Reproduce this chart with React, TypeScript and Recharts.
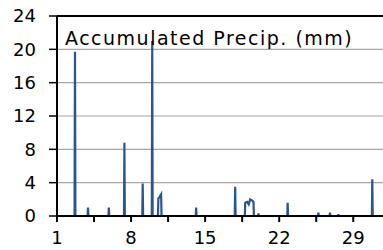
import React from "react";
import {
  LineChart,
  Line,
  XAxis,
  YAxis,
  CartesianGrid,
  ReferenceLine,
} from "recharts";

// day of month (fractional, hourly) and accumulated precipitation in mm
const days = [
  1, 2.66, 2.7, 2.74, 3.89, 3.93, 3.97, 5.86, 5.9, 5.94, 7.33, 7.37, 7.41,
  9.06, 9.1, 9.14, 9.96, 10.0, 10.04, 10.54, 10.58, 10.7, 10.84, 10.88,
  14.11, 14.15, 14.19, 17.8, 17.84, 17.88, 18.75, 18.79, 18.98, 19.12, 19.26,
  19.45, 19.57, 19.61, 20.0, 20.04, 20.08, 22.76, 22.8, 22.84, 25.66, 25.7,
  25.74, 26.76, 26.8, 26.84, 27.56, 27.6, 27.64, 30.76, 30.8, 30.84, 32,
];
const precip = [
  0, 0, 19.7, 0, 0, 1.0, 0, 0, 1.0, 0, 0, 8.8, 0,
  0, 3.9, 0, 0, 21.0, 0, 0, 2.1, 2.3, 2.6, 0,
  0, 1.0, 0, 0, 3.5, 0, 0, 1.6, 1.7, 1.4, 2.0,
  1.85, 1.7, 0, 0, 0.3, 0, 0, 1.6, 0, 0, 0.4,
  0, 0, 0.4, 0, 0, 0.2, 0, 0, 4.4, 0, 0,
];

const xTicks = [1, 4.5, 8, 11.5, 15, 18.5, 22, 25.5, 29];
const xLabels = [1, 8, 15, 22, 29];
const yTicks = [0, 4, 8, 12, 16, 20, 24];

const chartData = days.map((d, i) => ({ day: d, precip: precip[i] }));

const font = "DejaVu Sans";

const App: React.FC = () => {
  return (
    <div
      style={{
        position: "absolute",
        left: 0,
        top: 0,
        width: 383,
        height: 250,
        overflow: "hidden",
        background: "#fff",
      }}
    >
      <LineChart
        width={385}
        height={250}
        data={chartData}
        margin={{ top: 16, right: 0, bottom: 0, left: 0 }}
      >
        <CartesianGrid vertical={false} stroke="#a6a6a6" strokeWidth={1.2} />
        <XAxis
          dataKey="day"
          type="number"
          domain={[1, 32]}
          ticks={xTicks}
          interval={0}
          height={34}
          tickSize={6}
          tickMargin={9}
          axisLine={{ stroke: "#000", strokeWidth: 2 }}
          tickLine={{ stroke: "#000", strokeWidth: 2 }}
          tick={{ fill: "#000", fontSize: 18, fontFamily: font }}
          tickFormatter={(v: number) => (xLabels.includes(v) ? String(v) : "")}
        />
        <YAxis
          type="number"
          domain={[0, 24]}
          ticks={yTicks}
          interval={0}
          width={57}
          tickSize={8}
          tickMargin={13}
          axisLine={{ stroke: "#000", strokeWidth: 2 }}
          tickLine={{ stroke: "#000", strokeWidth: 1.5 }}
          tick={{ fill: "#000", fontSize: 18, fontFamily: font }}
        />
        <ReferenceLine y={24} stroke="#000" strokeWidth={2} />
        <Line
          type="linear"
          dataKey="precip"
          stroke="#2b5591"
          strokeWidth={2.2}
          dot={false}
          isAnimationActive={false}
        />
      </LineChart>
      <div
        style={{
          position: "absolute",
          left: 65,
          top: 27,
          fontFamily: font,
          fontSize: 19,
          letterSpacing: 1.5,
          lineHeight: "22px",
          color: "#000",
          whiteSpace: "nowrap",
        }}
      >
        Accumulated Precip. (mm)
      </div>
    </div>
  );
};

export default App;
